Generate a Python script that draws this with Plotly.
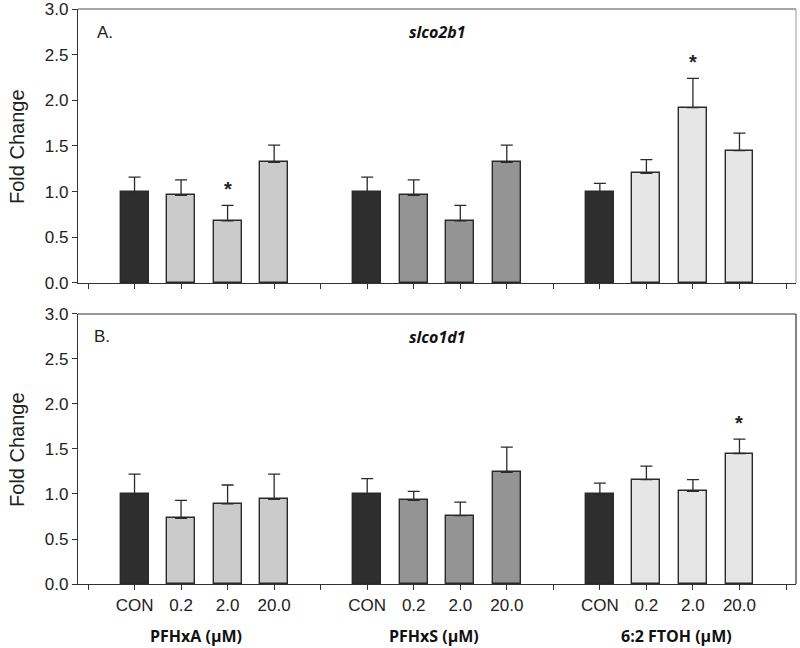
import plotly.graph_objects as go

# ---- data ----
groups = ["PFHxA (µM)", "PFHxS (µM)", "6:2 FTOH (µM)"]
doses = ["CON", "0.2", "2.0", "20.0"]

slco2b1_mean = [1.00, 0.96, 0.68, 1.32,
                1.00, 0.96, 0.68, 1.32,
                1.00, 1.20, 1.92, 1.45]
slco2b1_err = [0.16, 0.17, 0.17, 0.19,
               0.16, 0.17, 0.17, 0.19,
               0.09, 0.15, 0.32, 0.19]
slco2b1_sig = [False, False, True, False,
               False, False, False, False,
               False, False, True, False]

slco1d1_mean = [1.00, 0.73, 0.89, 0.94,
                1.00, 0.93, 0.76, 1.24,
                1.00, 1.16, 1.03, 1.45]
slco1d1_err = [0.22, 0.20, 0.21, 0.28,
               0.17, 0.10, 0.15, 0.28,
               0.12, 0.15, 0.13, 0.16]
slco1d1_sig = [False, False, False, False,
               False, False, False, False,
               False, False, False, True]

con_color = "#2e2e2e"
group_colors = ["#cbcbcb", "#949494", "#e6e6e6"]

# ---- positions ----
xpos = []
colors = []
for g in range(len(groups)):
    for d in range(len(doses)):
        xpos.append(1 + 5 * g + d)
        colors.append(con_color if d == 0 else group_colors[g])

tickvals = list(range(0, 16))
ticktext_bottom = []
for t in tickvals:
    if t % 5 == 0:
        ticktext_bottom.append("")
    else:
        ticktext_bottom.append(doses[(t % 5) - 1])

fig = go.Figure()

def add_panel(mean, err, xa, ya):
    fig.add_trace(go.Bar(
        x=xpos, y=mean, width=0.6,
        marker=dict(color=colors, line=dict(color="#2a2a2a", width=1.4)),
        error_y=dict(type="data", array=err, arrayminus=[0] * len(err),
                     symmetric=False, color="#2a2a2a", thickness=1.3, width=6),
        xaxis=xa, yaxis=ya, showlegend=False, hoverinfo="y",
    ))

add_panel(slco2b1_mean, slco2b1_err, "x", "y")
add_panel(slco1d1_mean, slco1d1_err, "x2", "y2")

# significance asterisks
for xv, m, e, s in zip(xpos, slco2b1_mean, slco2b1_err, slco2b1_sig):
    if s:
        fig.add_annotation(x=xv, y=m + e + 0.035, xref="x", yref="y", text="<b>*</b>",
                           showarrow=False, yanchor="bottom",
                           font=dict(family="Liberation Sans", size=20, color="#222"))
for xv, m, e, s in zip(xpos, slco1d1_mean, slco1d1_err, slco1d1_sig):
    if s:
        fig.add_annotation(x=xv, y=m + e + 0.035, xref="x2", yref="y2", text="<b>*</b>",
                           showarrow=False, yanchor="bottom",
                           font=dict(family="Liberation Sans", size=20, color="#222"))

xr = [-0.215, 15.215]
tickfont = dict(family="Liberation Sans", size=17, color="#222")
common_x = dict(range=xr, tickmode="array", tickvals=tickvals, ticks="outside",
                ticklen=5, tickcolor="#333", showline=True, linecolor="#333",
                linewidth=1.2, showgrid=False, zeroline=False, tickfont=tickfont,
                automargin=False, ticklabeloverflow="allow")
common_y = dict(range=[0, 3], tickmode="array", tickvals=[0, 0.5, 1, 1.5, 2, 2.5, 3],
                ticktext=["0.0", "0.5", "1.0", "1.5", "2.0", "2.5", "3.0"],
                ticks="outside", ticklen=5, tickcolor="#333", showline=True,
                linecolor="#333", linewidth=1.2, showgrid=False, zeroline=False,
                tickfont=tickfont, automargin=False, ticklabeloverflow="allow")

fig.update_layout(
    width=800, height=648,
    margin=dict(l=78, r=4, t=9, b=64, autoexpand=False),
    paper_bgcolor="white", plot_bgcolor="white",
    bargap=0,
    xaxis=dict(domain=[0, 1], anchor="y", ticktext=[""] * 16, **common_x),
    yaxis=dict(domain=[0.5235, 1.0], anchor="x", **common_y),
    xaxis2=dict(domain=[0, 1], anchor="y2", ticktext=ticktext_bottom, **common_x),
    yaxis2=dict(domain=[0.0, 0.4696], anchor="x2", **common_y),
)

# frames (top and right lines)
fig.add_shape(type="line", xref="x domain", yref="y domain", x0=0, x1=1, y0=1, y1=1,
              line=dict(color="#888", width=1.5))
fig.add_shape(type="line", xref="x domain", yref="y domain", x0=1, x1=1, y0=0, y1=1,
              line=dict(color="#aaa", width=1.2))
fig.add_shape(type="line", xref="x2 domain", yref="y2 domain", x0=0, x1=1, y0=1, y1=1,
              line=dict(color="#333", width=1.2))
fig.add_shape(type="line", xref="x2 domain", yref="y2 domain", x0=1, x1=1, y0=0, y1=1,
              line=dict(color="#333", width=1.2))

# panel labels and gene titles
fig.add_annotation(x=0.024, y=0.915, xref="x domain", yref="y domain", text="A.",
                   showarrow=False, xanchor="left", yanchor="middle",
                   font=dict(family="Liberation Sans", size=17, color="#222"))
fig.add_annotation(x=0.5, y=0.915, xref="x domain", yref="y domain", text="<b><i>slco2b1</i></b>",
                   showarrow=False, xanchor="center", yanchor="middle",
                   font=dict(family="Open Sans", size=16, color="#111"))
fig.add_annotation(x=0.02, y=0.915, xref="x2 domain", yref="y2 domain", text="B.",
                   showarrow=False, xanchor="left", yanchor="middle",
                   font=dict(family="Liberation Sans", size=17, color="#222"))
fig.add_annotation(x=0.5, y=0.915, xref="x2 domain", yref="y2 domain", text="<b><i>slco1d1</i></b>",
                   showarrow=False, xanchor="center", yanchor="middle",
                   font=dict(family="Open Sans", size=16, color="#111"))

# y titles
for yc in (0.7617, 0.2348):
    fig.add_annotation(x=-0.085, y=yc, xref="paper", yref="paper", text="Fold Change",
                       textangle=-90, showarrow=False, xanchor="center", yanchor="middle",
                       font=dict(family="Liberation Sans", size=20, color="#222"))

# group labels
group_centers = [2.31, 7.44, 12.64]
for gname, gc in zip(groups, group_centers):
    fig.add_annotation(x=gc, y=-0.09, xref="x2", yref="paper", text="<b>" + gname + "</b>",
                       showarrow=False, xanchor="center", yanchor="middle",
                       font=dict(family="Open Sans", size=16, color="#111"))

fig.write_html("out.html", config={"displayModeBar": False},
               post_script="document.body.style.margin='0';document.body.style.overflow='hidden';")
